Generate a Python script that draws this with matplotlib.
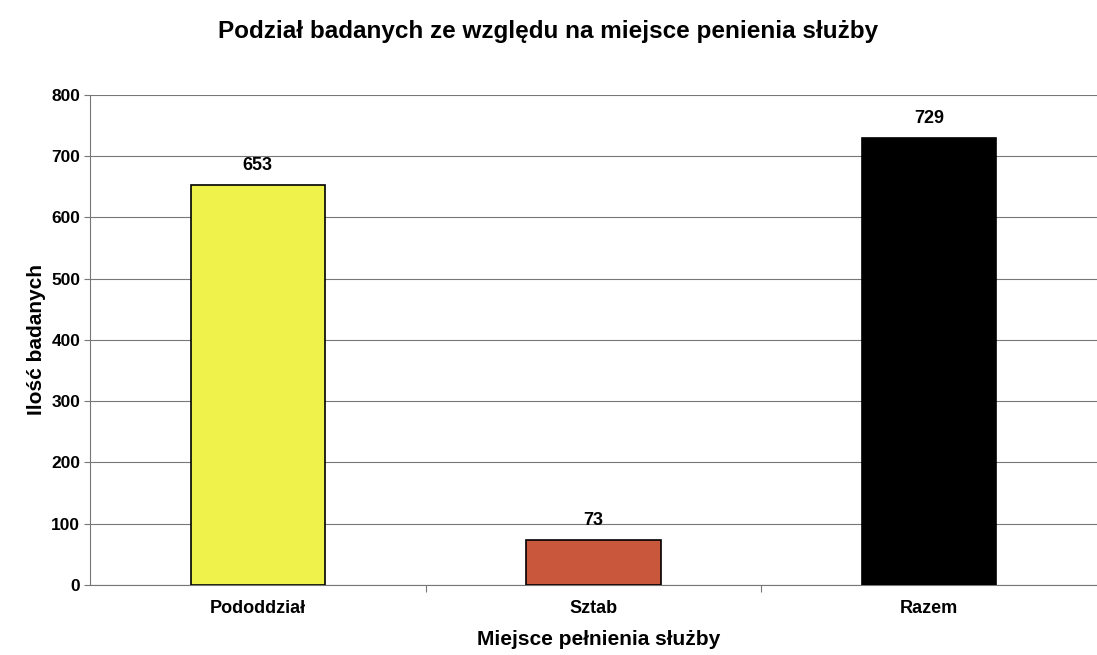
import matplotlib.pyplot as plt
import numpy as np

plt.rcParams['font.family'] = ['Liberation Sans', 'DejaVu Sans']

categories = ['Pododdział', 'Sztab', 'Razem']
counts = [653, 73, 729]
colors = ['#eef24a', '#c9573c', '#000000']

fig = plt.figure(figsize=(10.97, 6.55), dpi=100)
ax = fig.add_axes([0.082, 0.107, 0.918, 0.748])

x = np.arange(len(categories))
bars = ax.bar(x, counts, width=0.4, color=colors, edgecolor='black', linewidth=1.2, zorder=3)

for b, v in zip(bars, counts):
    ax.text(b.get_x() + b.get_width() / 2, v + 18, str(v), ha='center', va='bottom',
            fontsize=13, fontweight='bold')

ax.set_xlim(-0.5, 2.5)
ax.set_ylim(0, 800)
ax.set_yticks(range(0, 801, 100))
ax.yaxis.grid(True, color='#777777', linewidth=0.8, zorder=0)
ax.tick_params(axis='y', labelsize=12.5, length=4, color='#777777', direction='out', pad=3)
for lbl in ax.get_yticklabels():
    lbl.set_fontweight('bold')

# category labels under bars, ticks at category borders
ax.set_xticks([0.5, 1.5])
ax.set_xticklabels([])
ax.tick_params(axis='x', length=5, color='#777777')
for i, c in enumerate(categories):
    ax.text(i, -24, c, ha='center', va='top', fontsize=13, fontweight='bold')

for s in ['top', 'right']:
    ax.spines[s].set_visible(False)
ax.spines['left'].set_color('#777777')
ax.spines['bottom'].set_color('#777777')

ax.set_ylabel('Ilość badanych', fontsize=15, fontweight='bold', labelpad=4)
fig.text(0.546, 0.023, 'Miejsce pełnienia służby', ha='center', va='center',
         fontsize=15, fontweight='bold')
fig.suptitle('Podział badanych ze względu na miejsce penienia służby',
             fontsize=17.5, fontweight='bold', y=0.97)

fig.savefig('out.png', dpi=100, facecolor='white')
